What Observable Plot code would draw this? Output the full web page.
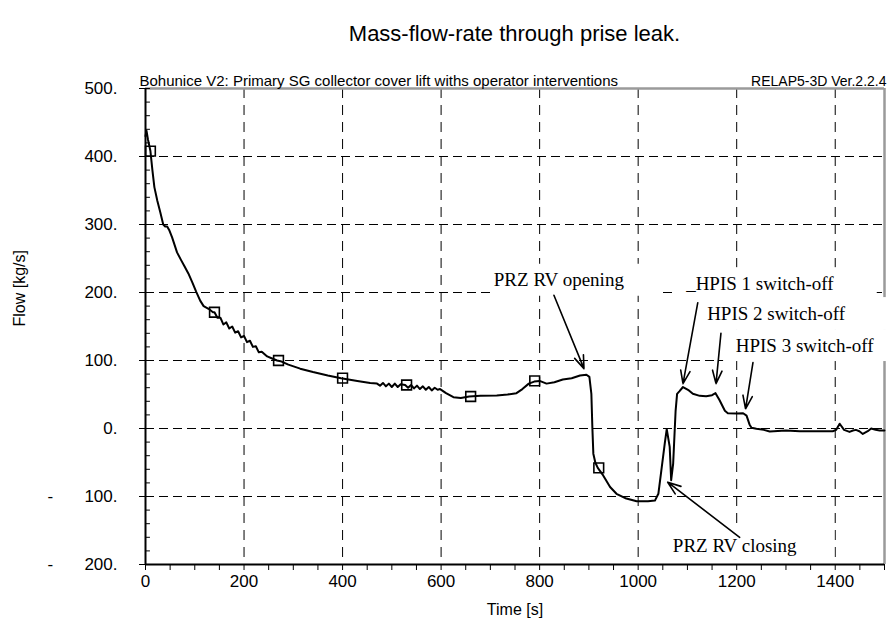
<!DOCTYPE html>
<html>
<head>
<meta charset="utf-8">
<script src="https://cdn.jsdelivr.net/npm/d3@7"></script>
<script src="https://cdn.jsdelivr.net/npm/@observablehq/plot@0.6"></script>
<style>
  html, body { margin: 0; padding: 0; background: #fff; }
  #wrap { position: relative; width: 896px; height: 634px; }
  #title { height: 60px; width: 896px; box-sizing: border-box; padding-left: 145px; padding-right: 12px; padding-top: 21px;
           text-align: center; font: 22px "Liberation Sans", Arial, sans-serif; color: #000; }
</style>
</head>
<body>
<div id="wrap">
  <div id="title">Mass-flow-rate through prise leak.</div>
  <div id="chart"></div>
</div>
<script>
// ---- data ----
const time = [0, 2, 5, 10, 14, 18, 24, 30, 36, 40, 44, 48, 54, 64, 72, 78, 87, 95, 103, 111, 118, 128, 137,
  140, 146, 152, 158, 164, 170, 176, 182, 188, 194, 200, 206, 212, 218, 224, 230, 236, 247, 257, 267,
  274, 290, 314, 340, 370, 397, 430, 456, 470, 476, 482, 488, 494, 500, 506, 512, 518, 527, 533, 539,
  545, 551, 557, 563, 569, 575, 581, 587, 593, 598, 610, 625, 640, 657, 680, 713, 735, 753, 765, 778,
  789, 800, 814, 830, 847, 865, 882, 895, 901, 905, 907, 909, 913, 918, 929, 943, 956, 976, 997, 1020,
  1034, 1041, 1047, 1054, 1058, 1064, 1067, 1071, 1076, 1079, 1084, 1091, 1103, 1111, 1125, 1138, 1150,
  1157, 1165, 1176, 1182, 1200, 1213, 1220, 1226, 1230, 1240, 1255, 1267, 1300, 1328, 1360, 1395, 1402,
  1409, 1418, 1429, 1436, 1442, 1449, 1456, 1466, 1473, 1482, 1490, 1500];
const flow = [430, 438, 425, 408, 380, 355, 335, 318, 300, 297, 297, 292, 281, 259, 248, 240, 228, 215, 201, 188, 180, 176, 171,
  171, 163, 163, 153, 156, 147, 150, 141, 143, 134, 136, 127, 129, 120, 121, 112, 113, 106, 103, 100,
  99, 94, 88, 83, 78, 74, 70, 67, 66, 63, 67, 62, 66, 61, 66, 61, 65, 64, 60, 64,
  59, 63, 58, 62, 57, 61, 56, 60, 57, 58, 52, 46, 45, 47, 48, 48.5, 50, 52, 58, 66,
  69, 70, 66, 68, 72, 74, 78, 79, 76, 51, 2, -37, -50, -58, -69, -86, -96, -103, -107, -107,
  -106, -96, -62, -22, -1, -27, -76, -52, 26, 51, 55, 61, 56, 51, 48, 47.5, 49,
  52, 42, 26, 22.5, 22, 22.5, 19, 6, 1, -0.5, -2, -4.5, -3, -4, -4, -4, -2,
  7, -2, -5, -3, -2, -4, -8, -4, 0, -2, -3, -3];
const markerTime = [10, 140, 270, 400, 530, 660, 790, 920];
const markerFlow = [408, 171, 100, 74, 64, 47, 70, -58];

const xTicks = [0, 200, 400, 600, 800, 1000, 1200, 1400];
const xMinor = d3.range(0, 1501, 50);
const yTicks = [-200, -100, 0, 100, 200, 300, 400, 500];
const yMinor = d3.range(-200, 501, 20);
const yTickLabels = ["200.", "100.", "0.", "100.", "200.", "300.", "400.", "500."];
const yTickSign = ["-", "-", "", "", "", "", "", ""];

const noteText = ["PRZ RV opening", "_HPIS 1 switch-off", "HPIS 2 switch-off", "HPIS 3 switch-off", "PRZ RV closing"];
const noteX = [839, 1247, 1280, 1338, 1196];
const noteY = [218, 213, 169, 122, -172];
const arrowFromX = [829, 1121, 1168, 1233, 1206];
const arrowFromY = [196, 185, 140, 97, -160];
const arrowToX = [890, 1091, 1158, 1218, 1060];
const arrowToY = [88, 66, 66, 29, -79];

// ---- build tables ----
const series = time.map((t, i) => ({t, f: flow[i]}));
const markers = markerTime.map((t, i) => ({t, f: markerFlow[i]}));
const yLab = yTicks.map((v, i) => ({v, label: yTickLabels[i], sign: yTickSign[i]}));
const notes = noteText.map((text, i) => ({text, x: noteX[i], y: noteY[i],
  x1: arrowFromX[i], y1: arrowFromY[i], x2: arrowToX[i], y2: arrowToY[i]}));

// white label boxes (annotation layout: pixel padding converted to data units)
const W = 896 - 145 - 12, H = 574 - 28 - 70;
const tPerPx = 1500 / W, fPerPx = 700 / H;
const boxes = notes.map(n => {
  const w = n.text.length * 8.6;
  return {x1: n.x - (w / 2 + 8) * tPerPx, x2: n.x + (w / 2 + 40) * tPerPx,
          y1: n.y - 16 * fPerPx, y2: n.y + 16 * fPerPx};
});

const sans = "Liberation Sans, Arial, sans-serif";
const serif = "Liberation Serif, Times New Roman, serif";

const chart = Plot.plot({
  width: 896,
  height: 574,
  marginLeft: 145,
  marginRight: 12,
  marginTop: 28,
  marginBottom: 70,
  style: {fontFamily: sans, background: "#fff", color: "#000", overflow: "visible"},
  x: {domain: [0, 1500], axis: null},
  y: {domain: [-200, 500], axis: null},
  marks: [
    // grid
    Plot.ruleY(yTicks.filter(d => d > -200 && d < 500), {stroke: "#000", strokeWidth: 1, strokeDasharray: "9,5"}),
    Plot.ruleX(xTicks.filter(d => d > 0), {stroke: "#000", strokeWidth: 1, strokeDasharray: "10,7"}),
    // frame
    Plot.ruleY([500], {stroke: "#9a9a9a", strokeWidth: 2.5}),
    Plot.ruleX([1500], {stroke: "#9a9a9a", strokeWidth: 2.5}),
    Plot.ruleX([0], {stroke: "#000", strokeWidth: 2}),
    Plot.ruleY([-200], {stroke: "#000", strokeWidth: 2}),
    // ticks
    Plot.ruleY(yMinor, {x1: 0, x2: 10, stroke: "#000", strokeWidth: 1}),
    Plot.axisY({ticks: yTicks, tickSize: 6, tickFormat: () => "", stroke: "#000"}),
    Plot.axisX({ticks: xMinor, tickSize: 6, tickFormat: () => "", stroke: "#000"}),
    // tick labels
    Plot.text(yLab, {y: "v", text: "label", frameAnchor: "left", dx: -28, textAnchor: "end", fontSize: 17, fill: "#000"}),
    Plot.text(yLab.filter(d => d.sign), {y: "v", text: "sign", frameAnchor: "left", dx: -98, fontSize: 17, fill: "#000"}),
    Plot.text(xTicks, {x: d => d, text: d => String(d), frameAnchor: "bottom", dy: 22, fontSize: 17, fill: "#000"}),
    // axis titles
    Plot.text(["Time [s]"], {frameAnchor: "bottom", dy: 50, fontSize: 16, fill: "#000"}),
    Plot.text(["Flow [kg/s]"], {frameAnchor: "left", dx: -126, rotate: -90, fontSize: 16, fill: "#000"}),
    // header texts
    Plot.text(["Bohunice V2: Primary SG collector cover lift withs operator interventions"],
      {frameAnchor: "top-left", textAnchor: "start", lineAnchor: "bottom", dx: -6, dy: -3, fontSize: 15, fill: "#000"}),
    Plot.text(["RELAP5-3D Ver.2.2.4"],
      {frameAnchor: "top-right", textAnchor: "end", lineAnchor: "bottom", dx: 2, dy: -3, fontSize: 14, fill: "#000"}),
    // label backgrounds
    Plot.rect(boxes, {x1: "x1", x2: "x2", y1: "y1", y2: "y2", fill: "#fff", clip: false}),
    // data
    Plot.line(series, {x: "t", y: "f", stroke: "#000", strokeWidth: 2, curve: "linear"}),
    Plot.dot(markers, {x: "t", y: "f", symbol: "square", r: 5.5, stroke: "#000", strokeWidth: 1.6, fill: "none"}),
    // annotations
    Plot.text(notes, {x: "x", y: "y", text: "text", fontFamily: serif, fontSize: 19, fill: "#000"}),
    Plot.arrow(notes, {x1: "x1", y1: "y1", x2: "x2", y2: "y2", stroke: "#000", strokeWidth: 1.6,
      headLength: 13, headAngle: 40})
  ]
});
document.getElementById("chart").appendChild(chart);
</script>
</body>
</html>
